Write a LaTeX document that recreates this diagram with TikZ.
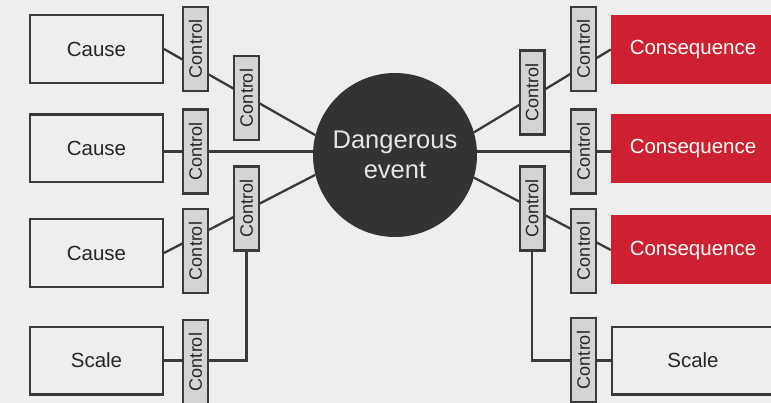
\documentclass[tikz,border=0pt]{standalone}
\usepackage{fontspec}
\setmainfont{Liberation Sans}
\usetikzlibrary{positioning}
\definecolor{bggrey}{HTML}{EEEEEE}
\definecolor{edgegrey}{HTML}{3A3A3A}
\definecolor{ctrlgrey}{HTML}{D4D4D6}
\definecolor{conred}{HTML}{CD2030}
\definecolor{eventgrey}{HTML}{333333}
\pgfdeclarelayer{bg}
\pgfdeclarelayer{wires}
\pgfsetlayers{bg,wires,main}

\begin{document}
\begin{tikzpicture}[
  x=1pt, y=-1pt,
  box/.style={draw=edgegrey, line width=2.3pt, fill=bggrey, minimum width=132.7pt, minimum height=67.7pt, inner sep=0pt, text=black!85, font=\fontsize{20.5}{24}\selectfont},
  conbox/.style={fill=conred, minimum width=164pt, minimum height=69pt, inner sep=0pt, text=white, font=\fontsize{20.5}{24}\selectfont},
  ctrl/.style={draw=edgegrey, line width=2.3pt, fill=ctrlgrey, rotate=90, minimum width=84pt, minimum height=24.7pt, inner sep=0pt, text=black!85, font=\fontsize{18}{20}\selectfont},
  hazard/.style={circle, fill=eventgrey, minimum size=164pt, inner sep=0pt, align=center, text=black!10, font=\fontsize{25.5}{30}\selectfont},
  wire/.style={draw=edgegrey, line width=2.3pt}
]
\useasboundingbox (0,0) rectangle (771,403);
\begin{pgfonlayer}{bg}
  \fill[bggrey] (0,0) rectangle (771,403);
\end{pgfonlayer}
\clip (0,0) rectangle (771,403);

% Centre
\node[hazard] (event) at (395,155) {Dangerous\\event};

% Left side
\node[box] (cause1) at (96.5,49) {Cause};
\node[box] (cause2) at (96.5,148.5) {Cause};
\node[box] (cause3) at (96.5,253) {Cause};
\node[box] (scaleL) at (96.5,360.5) {Scale};
\node[ctrl] (ctrlL1) at (195.5,49) {Control};
\node[ctrl] (ctrlL2) at (246.5,98) {Control};
\node[ctrl] (ctrlL3) at (195.5,151.5) {Control};
\node[ctrl] (ctrlL4) at (195.5,251) {Control};
\node[ctrl] (ctrlL5) at (246.5,208.5) {Control};
\node[ctrl] (ctrlL6) at (195.5,362) {Control};

% Right side
\node[conbox] (cons1) at (693,49.5) {Consequence};
\node[conbox] (cons2) at (693,148.5) {Consequence};
\node[conbox] (cons3) at (693,250) {Consequence};
\node[box, minimum width=180pt, text width=164pt, align=center] (scaleR) at (702,360.5) {Scale\hspace*{18pt}};
\node[ctrl] (ctrlR1) at (583.5,49) {Control};
\node[ctrl] (ctrlR2) at (532,92.5) {Control};
\node[ctrl] (ctrlR3) at (583.5,151.5) {Control};
\node[ctrl] (ctrlR4) at (583.5,251) {Control};
\node[ctrl] (ctrlR5) at (532,208.5) {Control};
\node[ctrl] (ctrlR6) at (583.5,360) {Control};

% Connectors, behind the controls (rotated controls: west is the bottom)
\begin{pgfonlayer}{wires}
  \draw[wire] (cause1.east) -- (event.166);
  \draw[wire] (cause2.east |- ctrlL3) -- (event.west |- ctrlL3);
  \draw[wire] (cause3.east) -- (event.194);
  \draw[wire] (scaleL.east) -- (scaleL.east -| ctrlL5.west) -- (ctrlL5.west);
  \draw[wire] (event.16) -- (cons1.west);
  \draw[wire] (event.east |- ctrlR3) -- (cons2.west |- ctrlR3);
  \draw[wire] (event.-16) -- (cons3.west);
  \draw[wire] (ctrlR5.west) -- (ctrlR5.west |- scaleR.west) -- (scaleR.west);
\end{pgfonlayer}
\end{tikzpicture}
\end{document}
